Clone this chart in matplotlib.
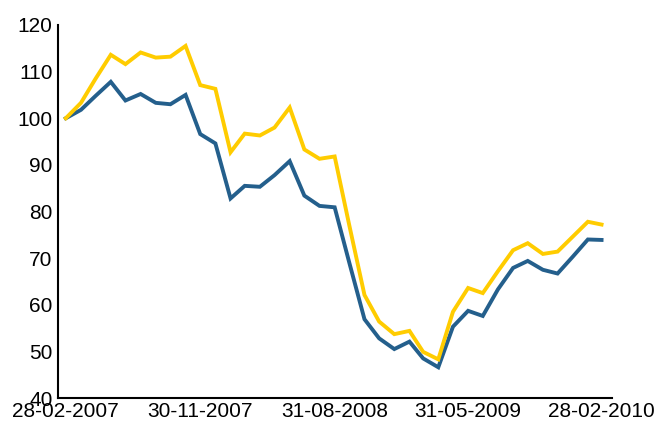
import matplotlib
matplotlib.use("Agg")
import matplotlib.pyplot as plt
import matplotlib.dates as mdates
import pandas as pd

# monthly index values, base 100 at 28-02-2007
dates = pd.date_range("2007-02-28", periods=37, freq="ME")

yellow_vals = [100, 103.3, 108.5, 113.6, 111.6, 114.1, 113.0, 113.2, 115.5, 107.1,
               106.3, 92.7, 96.7, 96.3, 98.0, 102.3, 93.3, 91.3, 91.8, 77.0,
               62.1, 56.4, 53.7, 54.4, 49.9, 48.3, 58.5, 63.6, 62.5, 67.2,
               71.7, 73.2, 70.9, 71.4, 74.6, 77.8, 77.2]

blue_vals = [100, 101.8, 104.8, 107.8, 103.8, 105.2, 103.3, 103.0, 105.0, 96.6,
             94.6, 82.8, 85.5, 85.3, 87.8, 90.8, 83.4, 81.2, 80.9, 69.0,
             56.9, 52.8, 50.5, 52.1, 48.5, 46.6, 55.3, 58.7, 57.6, 63.3,
             67.9, 69.4, 67.5, 66.7, 70.3, 74.0, 73.9]

tick_dates = pd.to_datetime(["2007-02-28", "2007-11-30", "2008-08-31",
                             "2009-05-31", "2010-02-28"])
y_ticks = [40, 50, 60, 70, 80, 90, 100, 110, 120]

plt.rcParams["font.family"] = ["Liberation Sans", "DejaVu Sans"]

fig = plt.figure(figsize=(6.56, 4.23), dpi=100)
ax = fig.add_axes([0.0884, 0.059, 0.845, 0.882])

ax.plot(dates, blue_vals, color="#245f8c", lw=2.8, solid_joinstyle="miter")
ax.plot(dates, yellow_vals, color="#ffcc00", lw=2.8, solid_joinstyle="miter")

ax.set_ylim(40, 120)
ax.set_yticks(y_ticks)
ax.set_xlim(dates[0] - pd.Timedelta(days=16), dates[-1] + pd.Timedelta(days=22))
ax.set_xticks(tick_dates)
ax.xaxis.set_major_formatter(mdates.DateFormatter("%d-%m-%Y"))

for s in ["top", "right"]:
    ax.spines[s].set_visible(False)
for s in ["left", "bottom"]:
    ax.spines[s].set_linewidth(1.5)
    ax.spines[s].set_color("black")

ax.tick_params(axis="both", length=0, labelsize=15, colors="black")
ax.tick_params(axis="y", pad=4)
ax.tick_params(axis="x", pad=3)

fig.savefig("out.png", dpi=100)
